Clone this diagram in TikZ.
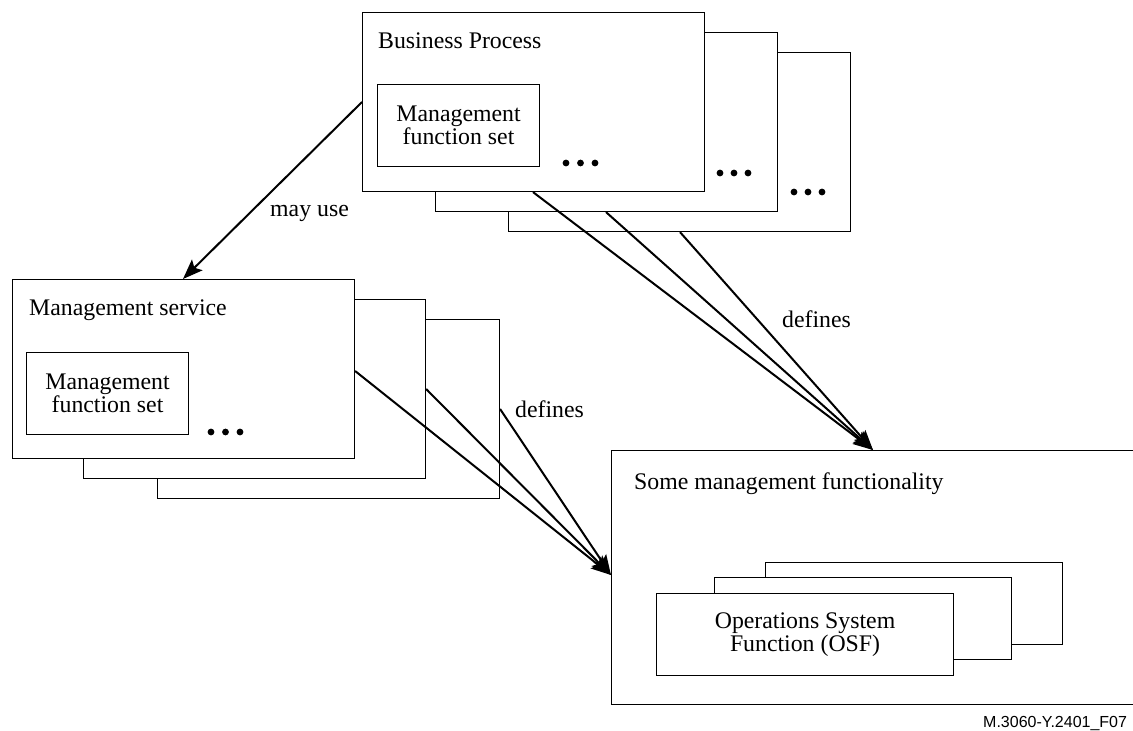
\documentclass[tikz,border=0pt]{standalone}
\usepackage{fontspec}
\setmainfont{Liberation Serif}
\newfontfamily\labelfont{Liberation Sans}
\usetikzlibrary{arrows.meta}
\begin{document}
\begin{tikzpicture}[x=1pt,y=-1pt,
  every node/.append style={font=\fontsize{23.8}{23.5}\selectfont},
  card/.style={draw, fill=white, line width=1.1pt, anchor=north west, inner sep=0pt,
    minimum width=342pt, minimum height=179pt},
  fnset/.style={draw, fill=white, line width=1.1pt, anchor=north west, inner sep=0pt,
    minimum width=162pt, minimum height=82pt, align=center},
  areabox/.style={draw, fill=white, line width=1.1pt, anchor=north west, inner sep=0pt,
    minimum width=530pt, minimum height=254pt},
  osfcard/.style={draw, fill=white, line width=1.1pt, anchor=north west, inner sep=0pt,
    minimum width=297pt, minimum height=82pt, align=center},
  title/.style={anchor=base west, inner sep=0pt},
  link/.style={line width=2pt, -{Stealth[length=20pt,width=15pt,inset=4pt]}},
  ellip/.style={fill=black}
]
\useasboundingbox (0,0) rectangle (1133,731);

% Business process stack
\node[card] (bp3) at (508,52) {};
\node[card] (bp2) at (435,32) {};
\node[card] (bp1) at (362,12) {};
\node[title] (bpt) at ([xshift=16pt,yshift=-36pt]bp1.north west) {Business Process};
\node[fnset] (bpf) at (377,84) {Management\\function set};
\foreach \x in {566,580.5,595} \fill[ellip] (\x,163) circle (3.4pt);
\foreach \x in {720,734,748} \fill[ellip] (\x,173) circle (3.4pt);
\foreach \x in {794,808,822} \fill[ellip] (\x,192) circle (3.4pt);

% Management service stack
\node[card] (ms3) at (157,319) {};
\node[card] (ms2) at (83,299) {};
\node[card] (ms1) at (12,279) {};
\node[title] (mst) at ([xshift=17pt,yshift=-36pt]ms1.north west) {Management service};
\node[fnset] (msf) at (26,352) {Management\\function set};
\foreach \x in {211,225.5,240} \fill[ellip] (\x,432) circle (3.4pt);

% Management functionality with OSF stack
\node[areabox] (smf) at (611,450) {};
\node[title] (smft) at ([xshift=23pt,yshift=-39pt]smf.north west) {Some management functionality};
\node[osfcard] (osf3) at (765,562) {};
\node[osfcard] (osf2) at (714,577) {};
\node[osfcard] (osf1) at (656,593) {Operations System\\Function (OSF)};

% Connectors
\draw[link] ([yshift=-90pt]bp1.north west) -- ([xshift=171pt]ms1.north west);
\draw[link] ([xshift=171pt]bp1.south west) -- ([xshift=262pt]smf.north west);
\draw[link] ([xshift=171pt]bp2.south west) -- ([xshift=262pt]smf.north west);
\draw[link] ([xshift=172pt]bp3.south west) -- ([xshift=262pt]smf.north west);
\draw[link] ([yshift=-92pt]ms1.north east) -- ([yshift=-125pt]smf.north west);
\draw[link] ([yshift=-90pt]ms2.north east) -- ([yshift=-125pt]smf.north west);
\draw[link] ([yshift=-90pt]ms3.north east) -- ([yshift=-125pt]smf.north west);

% Connector labels
\node[title] (lmay) at (270,216) {may use};
\node[title] (ldef1) at (782,327) {defines};
\node[title] (ldef2) at (515,417) {defines};

% Figure reference
\node[title, font=\labelfont\fontsize{16}{18}\selectfont] (ref) at (983,727) {M.3060-Y.2401\_F07};
\end{tikzpicture}
\end{document}
